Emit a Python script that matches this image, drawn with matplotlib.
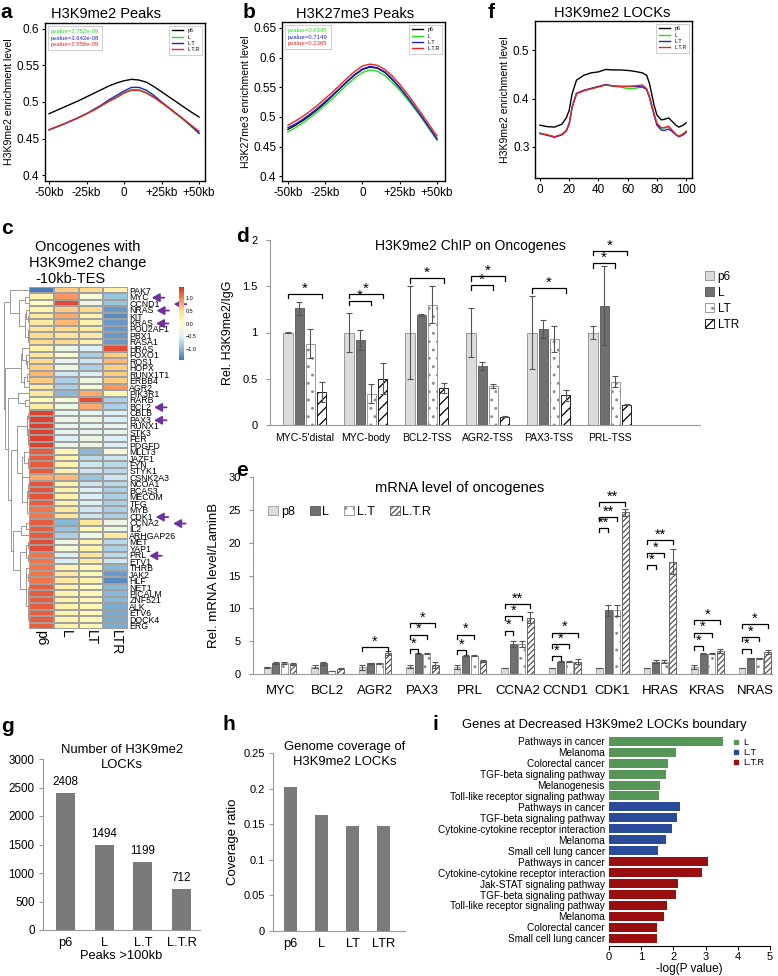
import numpy as np
import matplotlib
matplotlib.use("Agg")
import matplotlib.pyplot as plt
from matplotlib.lines import Line2D
from matplotlib.colors import LinearSegmentedColormap
from matplotlib.text import OffsetFrom

plt.rcParams['font.family'] = ['Liberation Sans', 'DejaVu Sans']
plt.rcParams['hatch.linewidth'] = 0.9

W, H = 778, 976

# ---------------- data ----------------
samples = ['p6', 'L', 'L.T', 'L.T.R']
line_colors = ['black', '#22dd22', '#2222cc', '#ee2222']

peak_kb = [-50, -45, -40, -35, -30, -25, -20, -15, -10, -5, 0, 5, 10, 15, 20, 25, 30, 35, 40, 45, 50]

# a: H3K9me2 peaks
a_p6 = [0.484, 0.4885, 0.493, 0.4975, 0.502, 0.507, 0.512, 0.517, 0.522, 0.526, 0.529,
        0.531, 0.530, 0.527, 0.521, 0.514, 0.507, 0.500, 0.493, 0.486, 0.4795]
a_L = [0.462, 0.466, 0.470, 0.4745, 0.479, 0.484, 0.489, 0.495, 0.501, 0.507, 0.513,
       0.517, 0.517, 0.513, 0.507, 0.499, 0.491, 0.483, 0.475, 0.466, 0.458]
a_LT = [0.462, 0.466, 0.470, 0.4745, 0.479, 0.484, 0.490, 0.496, 0.503, 0.509, 0.515,
        0.520, 0.520, 0.516, 0.509, 0.500, 0.492, 0.484, 0.476, 0.467, 0.457]
a_LTR = [0.462, 0.466, 0.470, 0.4745, 0.479, 0.484, 0.489, 0.495, 0.501, 0.506, 0.512,
         0.516, 0.516, 0.512, 0.506, 0.499, 0.492, 0.484, 0.476, 0.468, 0.460]
a_pvalues = ['pvalue=2.752e-09', 'pvalue=3.642e-08', 'pvalue=2.558e-09']

# b: H3K27me3 peaks
b_p6 = [0.479, 0.486, 0.494, 0.503, 0.513, 0.524, 0.536, 0.548, 0.560, 0.571, 0.580,
        0.584, 0.582, 0.575, 0.563, 0.549, 0.533, 0.516, 0.499, 0.481, 0.463]
b_L = [0.475, 0.482, 0.490, 0.499, 0.509, 0.520, 0.531, 0.543, 0.555, 0.566, 0.575,
       0.579, 0.577, 0.570, 0.558, 0.545, 0.530, 0.514, 0.497, 0.479, 0.461]
b_LT = [0.482, 0.488, 0.496, 0.505, 0.515, 0.526, 0.537, 0.549, 0.561, 0.572, 0.581,
        0.585, 0.583, 0.576, 0.564, 0.550, 0.534, 0.517, 0.499, 0.481, 0.462]
b_LTR = [0.486, 0.493, 0.501, 0.510, 0.520, 0.531, 0.542, 0.554, 0.566, 0.577, 0.586,
         0.589, 0.587, 0.580, 0.569, 0.555, 0.539, 0.522, 0.504, 0.486, 0.468]
b_pvalues = ['pvalue=0.6345', 'pvalue=0.7149', 'pvalue=0.2365']

# f: H3K9me2 LOCKs profile
lock_pos = [0, 5, 10, 15, 18, 20, 22, 25, 30, 35, 40, 45, 50, 55, 60, 65, 70, 73, 75,
            78, 80, 83, 85, 88, 90, 93, 95, 98, 100]
f_p6 = [0.345, 0.342, 0.341, 0.347, 0.360, 0.376, 0.410, 0.438, 0.448, 0.453, 0.455,
        0.460, 0.459, 0.459, 0.458, 0.456, 0.453, 0.448, 0.430, 0.387, 0.366, 0.356,
        0.357, 0.360, 0.354, 0.345, 0.341, 0.345, 0.350]
f_L = [0.329, 0.325, 0.321, 0.326, 0.334, 0.348, 0.382, 0.410, 0.416, 0.420, 0.424,
       0.428, 0.425, 0.424, 0.420, 0.421, 0.424, 0.419, 0.402, 0.368, 0.348, 0.339,
       0.339, 0.341, 0.335, 0.326, 0.322, 0.327, 0.333]
f_LT = [0.328, 0.324, 0.320, 0.325, 0.333, 0.347, 0.382, 0.411, 0.417, 0.421, 0.425,
        0.429, 0.426, 0.425, 0.425, 0.425, 0.424, 0.419, 0.401, 0.366, 0.345, 0.335,
        0.334, 0.337, 0.333, 0.325, 0.321, 0.325, 0.330]
f_LTR = [0.328, 0.325, 0.321, 0.326, 0.334, 0.349, 0.383, 0.410, 0.416, 0.420, 0.424,
         0.428, 0.426, 0.425, 0.425, 0.426, 0.428, 0.420, 0.403, 0.369, 0.349, 0.340,
         0.340, 0.343, 0.336, 0.326, 0.322, 0.327, 0.332]

# c: heatmap of oncogenes (row z-scores: p6, L, LT, LTR)
genes = ['PAK7', 'MYC', 'CCND1', 'NRAS', 'KIT', 'KRAS', 'POU2AF1', 'PBX1', 'RASA1', 'HRAS',
         'FOXO1', 'ROS1', 'HOPX', 'RUNX1T1', 'ERBB4', 'AGR2', 'PIK3R1', 'RARB', 'BCL2', 'CBLB',
         'PAX3', 'RUNX1', 'STK3', 'FER', 'PDGFD', 'MLLT3', 'JAZF1', 'FYN', 'STYK1', 'CSNK2A3',
         'NCOA1', 'BCAS3', 'MECOM', 'TFG', 'MYB', 'CDK1', 'CCNA2', 'IL2', 'ARHGAP26', 'MET',
         'YAP1', 'PRL', 'ETV1', 'THRB', 'JAK2', 'HLF', 'NET1', 'PICALM', 'ZNF521', 'ALK',
         'ETV6', 'DOCK4', 'ERG']
heat_cols = ['p6', 'L', 'LT', 'LTR']
heat_values = [
    [-1.4, 0.6, 0.5, 0.2], [0.2, 0.9, -0.2, -0.9], [0.0, 1.3, -0.3, -0.9],
    [0.2, 0.6, 0.5, -1.2], [0.3, 0.8, 0.2, -1.3], [0.3, 0.7, 0.2, -1.2],
    [0.4, 0.5, 0.3, -1.2], [0.5, 0.4, 0.3, -1.2], [0.5, 0.5, 0.2, -1.2],
    [0.2, -0.3, -0.5, 1.3], [0.4, -0.1, -0.8, 0.6], [0.5, -0.4, -0.6, 0.7],
    [0.6, -0.3, -0.8, 0.6], [0.7, -0.6, -0.5, 0.6], [0.6, -0.8, -0.3, 0.6],
    [0.3, -0.8, -0.2, 0.9], [0.3, -1.0, 0.8, 0.1], [0.1, -0.2, 1.3, -0.8],
    [0.3, -0.3, 0.8, -0.8], [1.35, -0.4, -0.4, -0.5], [1.35, -0.3, -0.3, -0.5],
    [1.35, -0.4, -0.4, -0.4], [1.35, -0.4, -0.4, -0.4], [1.35, -0.5, -0.3, -0.5],
    [1.35, -0.4, -0.3, -0.5], [1.2, 0.1, -1.0, -0.2], [1.2, 0.2, -0.7, -0.6],
    [1.2, 0.2, -0.6, -0.7], [1.2, 0.2, -0.6, -0.7], [0.8, 0.7, -0.9, -0.6],
    [1.25, 0.2, -0.6, -0.7], [1.25, 0.2, -0.5, -0.8], [1.25, 0.2, -0.5, -0.8],
    [1.2, 0.2, -0.5, -0.8], [1.1, 0.4, -0.6, -0.8], [1.1, 0.4, -0.6, -0.8],
    [1.2, -1.0, 0.4, -0.3], [1.2, -0.9, 0.1, -0.3], [1.2, -0.8, -0.3, 0.3],
    [1.3, -0.3, 0.2, -0.7], [1.3, -0.2, 0.2, -0.8], [1.1, -0.5, 0.4, -0.7],
    [1.1, -0.5, 0.3, -0.6], [1.1, 0.2, 0.1, -1.0], [1.1, 0.3, 0.1, -1.2],
    [1.1, 0.3, 0.2, -1.3], [1.2, 0.2, 0.0, -1.0], [1.2, 0.2, 0.1, -1.0],
    [1.2, 0.2, 0.1, -1.0], [1.2, 0.2, 0.1, -1.1], [1.2, 0.2, 0.1, -1.1],
    [1.2, 0.2, 0.1, -1.1], [1.2, 0.2, 0.1, -1.1],
]
heat_palette = ['#4575B4', '#91BFDB', '#E0F3F8', '#FFFFBF', '#FEE090', '#FC8D59', '#D73027']
marked_genes = ['MYC', 'CCND1', 'NRAS', 'KRAS', 'BCL2', 'PAX3', 'CDK1', 'CCNA2', 'PRL']
arrow_shift = [0, 1, 0, 0, 0, 0, 0, 1, 0]

# d: H3K9me2 ChIP on oncogenes
chip_sites = ["MYC-5'distal", 'MYC-body', 'BCL2-TSS', 'AGR2-TSS', 'PAX3-TSS', 'PRL-TSS']
chip_labels = ['p6', 'L', 'LT', 'LTR']
chip_p6 = [1.0, 1.0, 1.0, 1.0, 1.0, 1.0]
chip_L = [1.26, 0.92, 1.19, 0.64, 1.04, 1.29]
chip_LT = [0.88, 0.34, 1.30, 0.42, 0.93, 0.47]
chip_LTR = [0.36, 0.50, 0.40, 0.09, 0.32, 0.22]
chip_p6_err = [0.005, 0.21, 0.50, 0.27, 0.39, 0.07]
chip_L_err = [0.07, 0.11, 0.01, 0.04, 0.10, 0.43]
chip_LT_err = [0.16, 0.10, 0.20, 0.02, 0.14, 0.06]
chip_LTR_err = [0.11, 0.17, 0.05, 0.005, 0.06, 0.005]
# (site, compared bar, bracket height, mark)
chip_sig = [(0, 3, 1.42, '*'), (1, 2, 1.345, '*'), (1, 3, 1.42, '*'), (2, 3, 1.59, '*'),
            (3, 2, 1.51, '*'), (3, 3, 1.61, '*'), (4, 3, 1.48, '*'), (5, 2, 1.75, '*'),
            (5, 3, 1.885, '*')]

# e: mRNA level of oncogenes
mrna_genes = ['MYC', 'BCL2', 'AGR2', 'PAX3', 'PRL', 'CCNA2', 'CCND1', 'CDK1', 'HRAS', 'KRAS', 'NRAS']
mrna_labels = ['p8', 'L', 'L.T', 'L.T.R']
mrna_p8 = [1.0, 1.1, 1.0, 1.1, 1.0, 0.9, 0.9, 0.9, 0.9, 1.0, 0.9]
mrna_L = [1.7, 1.6, 1.6, 3.1, 2.8, 4.6, 1.9, 9.7, 1.9, 3.1, 2.4]
mrna_LT = [1.7, 0.45, 1.6, 3.1, 2.8, 4.6, 1.9, 9.7, 1.9, 3.1, 2.4]
mrna_LTR = [1.5, 0.8, 3.2, 1.4, 2.0, 8.6, 1.9, 24.6, 17.1, 3.5, 3.3]
mrna_p8_err = [0.05, 0.2, 0.4, 0.2, 0.3, 0.05, 0.05, 0.05, 0.05, 0.3, 0.05]
mrna_L_err = [0.2, 0.2, 0.1, 0.1, 0.1, 0.5, 0.1, 0.8, 0.3, 0.05, 0.1]
mrna_LT_err = [0.2, 0.05, 0.1, 0.1, 0.05, 0.5, 0.05, 0.8, 0.3, 0.05, 0.05]
mrna_LTR_err = [0.1, 0.1, 0.3, 0.5, 0.1, 0.9, 0.4, 0.5, 1.9, 0.3, 0.3]
mrna_sig = [(2, 3, 4.1, '*'),
            (3, 1, 3.8, '*'), (3, 2, 6.0, '*'), (3, 3, 7.8, '*'),
            (4, 1, 3.6, '*'), (4, 2, 6.0, '*'),
            (5, 1, 6.6, '*'), (5, 2, 8.8, '*'), (5, 3, 10.7, '**'),
            (6, 1, 2.7, '*'), (6, 2, 4.5, '*'), (6, 3, 6.3, '*'),
            (7, 1, 22.2, '**'), (7, 2, 23.9, '**'), (7, 3, 26.2, '**'),
            (8, 1, 16.6, '*'), (8, 2, 18.4, '*'), (8, 3, 20.4, '**'),
            (9, 1, 4.3, '*'), (9, 2, 6.3, '*'), (9, 3, 8.2, '*'),
            (10, 1, 3.8, '*'), (10, 2, 5.6, '*'), (10, 3, 7.6, '*')]

# g, h: LOCKs
lock_samples_g = ['p6', 'L', 'L.T', 'L.T.R']
lock_counts = [2408, 1494, 1199, 712]
lock_samples_h = ['p6', 'L', 'LT', 'LTR']
lock_coverage = [0.202, 0.163, 0.147, 0.148]

# i: KEGG enrichment
kegg_terms = ['Pathways in cancer', 'Melanoma', 'Colorectal cancer', 'TGF-beta signaling pathway',
              'Melanogenesis', 'Toll-like receptor signaling pathway',
              'Pathways in cancer', 'TGF-beta signaling pathway',
              'Cytokine-cytokine receptor interaction', 'Melanoma', 'Small cell lung cancer',
              'Pathways in cancer', 'Cytokine-cytokine receptor interaction',
              'Jak-STAT signaling pathway', 'TGF-beta signaling pathway',
              'Toll-like receptor signaling pathway', 'Melanoma', 'Colorectal cancer',
              'Small cell lung cancer']
kegg_logp = [3.55, 2.08, 1.82, 1.77, 1.58, 1.56,
             2.20, 2.12, 1.95, 1.76, 1.51,
             3.08, 2.88, 2.15, 2.08, 1.81, 1.72, 1.48, 1.48]
kegg_group = ['L'] * 6 + ['L.T'] * 5 + ['L.T.R'] * 8
kegg_colors = {'L': '#569656', 'L.T': '#2a4a9a', 'L.T.R': '#990f0f'}


# ---------------- helpers ----------------
def box(l, t, r, b):
    return [l / W, 1 - b / H, (r - l) / W, (b - t) / H]


def ftext(x, y, s, **kw):
    fig.text(x / W, 1 - y / H, s, **kw)


def profile(ax, x, series, pvalues=None):
    for vals, c in zip(series, line_colors):
        ax.plot(x, vals, color=c, lw=1.0)
    handles = [Line2D([], [], color=c, lw=1.0) for c in line_colors]
    leg = ax.legend(handles, samples, loc='upper right', fontsize=3.8, handlelength=2.2,
                    labelspacing=0.25, borderpad=0.5, fancybox=False, framealpha=1,
                    edgecolor='#bbbbbb')
    leg.get_frame().set_linewidth(0.5)
    if pvalues:
        ax.add_artist(leg)
        blank = [Line2D([], [], lw=0) for _ in pvalues]
        leg2 = ax.legend(blank, pvalues, loc='upper left', fontsize=4.3, handlelength=0,
                         handletextpad=0, labelspacing=0.25, borderpad=0.5, fancybox=False,
                         framealpha=1, edgecolor='#bbbbbb')
        leg2.get_frame().set_linewidth(0.5)
        for t, c in zip(leg2.get_texts(), line_colors[1:]):
            t.set_color(c)
    for s in ax.spines.values():
        s.set_linewidth(1.0)
    ax.tick_params(labelsize=8.5, length=2.5, width=0.8, pad=1.5)


def bracket(ax, x1, x2, y, mark, drop, size):
    ax.plot([x1, x1, x2, x2], [y - drop, y, y, y - drop], color='black', lw=0.9)
    ax.text((x1 + x2) / 2, y - drop * 0.4, mark, ha='center', va='bottom', fontsize=size)


def ordered_linkage(mat):
    # complete linkage, merging only neighbouring clusters so the row order is kept
    groups = [[i] for i in range(len(mat))]
    pos = [float(i) for i in range(len(mat))]
    hgt = [0.0] * len(mat)
    links = []
    while len(groups) > 1:
        dists = []
        for k in range(len(groups) - 1):
            a = mat[groups[k]]
            b = mat[groups[k + 1]]
            d = np.sqrt(((a[:, None, :] - b[None, :, :]) ** 2).sum(-1)).max()
            dists.append(d)
        k = int(np.argmin(dists))
        h = max(dists[k], hgt[k], hgt[k + 1])
        links.append((pos[k], hgt[k], pos[k + 1], hgt[k + 1], h))
        groups[k:k + 2] = [groups[k] + groups[k + 1]]
        pos[k:k + 2] = [(pos[k] + pos[k + 1]) / 2]
        hgt[k:k + 2] = [h]
    return links


fig = plt.figure(figsize=(W / 100, H / 100), dpi=100)

# ---------------- a ----------------
ax_a = fig.add_axes(box(45, 23, 205, 181))
profile(ax_a, peak_kb, [a_p6, a_L, a_LT, a_LTR], a_pvalues)
ax_a.set_xlim(-52.7, 54)
ax_a.set_ylim(0.392, 0.608)
ax_a.set_yticks([0.4, 0.45, 0.5, 0.55, 0.6])
ax_a.set_yticklabels(['0.4', '0.45', '0.5', '0.55', '0.6'])
ax_a.set_xticks([-50, -25, 0, 25, 50])
ax_a.set_xticklabels(['-50kb', '-25kb', '0', '+25kb', '+50kb'])
ax_a.set_ylabel('H3K9me2 enrichment level', fontsize=7.6, labelpad=2)
ftext(106, 14, 'H3K9me2 Peaks', fontsize=10.5, ha='center', va='center')
ftext(0, 12, 'a', fontsize=15, fontweight='bold', va='center')

# ---------------- b ----------------
ax_b = fig.add_axes(box(282, 22, 445, 181))
profile(ax_b, peak_kb, [b_p6, b_L, b_LT, b_LTR], b_pvalues)
ax_b.set_xlim(-54, 55.4)
ax_b.set_ylim(0.392, 0.660)
ax_b.set_yticks([0.4, 0.45, 0.5, 0.55, 0.6, 0.65])
ax_b.set_yticklabels(['0.4', '0.45', '0.5', '0.55', '0.6', '0.65'])
ax_b.set_xticks([-50, -25, 0, 25, 50])
ax_b.set_xticklabels(['-50kb', '-25kb', '0', '+25kb', '+50kb'])
ax_b.set_ylabel('H3K27me3 enrichment level', fontsize=7.6, labelpad=2)
ftext(355, 14, 'H3K27me3 Peaks', fontsize=10.5, ha='center', va='center')
ftext(243, 12, 'b', fontsize=15, fontweight='bold', va='center')

# ---------------- f ----------------
ax_f = fig.add_axes(box(535, 21, 692, 178))
profile(ax_f, lock_pos, [f_p6, f_L, f_LT, f_LTR])
ax_f.set_xlim(-3.4, 104)
ax_f.set_ylim(0.236, 0.560)
ax_f.set_yticks([0.3, 0.4, 0.5])
ax_f.set_yticklabels(['0.3', '0.4', '0.5'])
ax_f.set_xticks([0, 20, 40, 60, 80, 100])
ax_f.set_ylabel('H3K9me2 enrichment level', fontsize=7.6, labelpad=2)
ftext(612, 13, 'H3K9me2 LOCKs', fontsize=10.5, ha='center', va='center')
ftext(488, 12, 'f', fontsize=15, fontweight='bold', va='center')

# ---------------- c ----------------
heat = np.array(heat_values)
heat_cmap = LinearSegmentedColormap.from_list('pheat', heat_palette, N=100)
ax_c = fig.add_axes(box(29, 287, 128, 629))
mesh = ax_c.pcolormesh(heat, cmap=heat_cmap, vmin=-1.45, vmax=1.45,
                       edgecolors='#a0a0a0', linewidth=0.3)
ax_c.set_ylim(len(genes), 0)
ax_c.set_xlim(0, 4)
ax_c.set_yticks(np.arange(len(genes)) + 0.5)
ax_c.set_yticklabels(genes, fontsize=6.3)
ax_c.yaxis.tick_right()
ax_c.set_xticks(np.arange(4) + 0.5)
ax_c.set_xticklabels(heat_cols, rotation=270, fontsize=10)
ax_c.tick_params(length=0, pad=1)
for s in ax_c.spines.values():
    s.set_visible(False)
gene_ticklabels = ax_c.get_yticklabels()
for g, sh in zip(marked_genes, arrow_shift):
    lab = gene_ticklabels[genes.index(g)]
    anchor = OffsetFrom(lab, (1, 0.5), unit='points')
    ax_c.annotate('', xy=(2 + sh * 8, 0), xycoords=anchor,
                  xytext=(11 + sh * 8, 0), textcoords=anchor,
                  arrowprops=dict(arrowstyle='-|>,head_length=0.45,head_width=0.25',
                                  color='#7030a0', lw=1.3, shrinkA=0, shrinkB=0),
                  annotation_clip=False)

ax_dend = fig.add_axes(box(3, 287, 29, 629))
links = ordered_linkage(heat)
for ya, ha, yb, hb, h in links:
    ax_dend.plot([ha, h, h, hb], [ya + 0.5, ya + 0.5, yb + 0.5, yb + 0.5], color='#8a8a8a', lw=0.6)
ax_dend.set_ylim(len(genes), 0)
ax_dend.set_xlim(max(l[4] for l in links) * 1.02, 0)
ax_dend.axis('off')

cax = fig.add_axes(box(179, 287, 184, 360))
cb = fig.colorbar(mesh, cax=cax, ticks=[-1, -0.5, 0, 0.5, 1])
cb.ax.tick_params(labelsize=4, length=0, pad=1)
cb.outline.set_visible(False)

ftext(88, 247, 'Oncogenes with', fontsize=10.5, ha='center', va='center')
ftext(88, 263, 'H3K9me2 change', fontsize=10.5, ha='center', va='center')
ftext(70, 279, '-10kb-TES', fontsize=10.5, ha='center', va='center')
ftext(1, 228, 'c', fontsize=15, fontweight='bold', va='center')

# ---------------- d ----------------
ax_d = fig.add_axes(box(270, 240, 700, 425))
xd = np.arange(len(chip_sites))
off = [-0.275, -0.092, 0.092, 0.275]
bw = 0.15
d_vals = [chip_p6, chip_L, chip_LT, chip_LTR]
d_errs = [chip_p6_err, chip_L_err, chip_LT_err, chip_LTR_err]
d_style = [dict(color='#dcdcdc', edgecolor='#8c8c8c'),
           dict(color='#707070', edgecolor='#555555'),
           dict(color='white', edgecolor='#8c8c8c', hatch='..'),
           dict(color='white', edgecolor='black', hatch='///')]
for k in range(4):
    ax_d.bar(xd + off[k], d_vals[k], bw, yerr=d_errs[k], linewidth=0.6, label=chip_labels[k],
             error_kw=dict(ecolor='#555555', elinewidth=0.8, capsize=2.5, capthick=0.8),
             **d_style[k])
for site, j, h, m in chip_sig:
    bracket(ax_d, site + off[0], site + off[j], h, m, 0.05, 11)
ax_d.set_xlim(-0.57, 6.48)
ax_d.set_ylim(0, 2)
ax_d.set_yticks([0, 0.5, 1, 1.5, 2])
ax_d.set_yticklabels(['0', '0.5', '1', '1.5', '2'])
ax_d.set_xticks(xd)
ax_d.set_xticklabels(chip_sites, fontsize=7.5)
ax_d.tick_params(axis='x', length=0, pad=6)
ax_d.tick_params(axis='y', labelsize=8, length=3, color='#999999', pad=6)
for s in ['top', 'right']:
    ax_d.spines[s].set_visible(False)
for s in ['left', 'bottom']:
    ax_d.spines[s].set_color('#999999')
ax_d.legend(loc='upper left', bbox_to_anchor=(1.0, 0.86), fontsize=8.5, frameon=False,
            handlelength=0.8, handleheight=0.8, handletextpad=0.3, labelspacing=0.35,
            borderaxespad=0)
ax_d.set_ylabel('Rel. H3K9me2/IgG', fontsize=9, labelpad=6)
ftext(470, 246, 'H3K9me2 ChIP on Oncogenes', fontsize=10, ha='center', va='center')
ftext(236, 236, 'd', fontsize=15, fontweight='bold', va='center')

# ---------------- e ----------------
ax_e = fig.add_axes(box(253, 477, 772, 674))
xe = np.arange(len(mrna_genes))
off_e = [-0.273, -0.091, 0.091, 0.273]
bw_e = 0.145
e_vals = [mrna_p8, mrna_L, mrna_LT, mrna_LTR]
e_errs = [mrna_p8_err, mrna_L_err, mrna_LT_err, mrna_LTR_err]
e_style = [dict(color='#dcdcdc', edgecolor='#9a9a9a'),
           dict(color='#707070', edgecolor='#555555'),
           dict(color='white', edgecolor='#8c8c8c', hatch='..'),
           dict(color='white', edgecolor='#555555', hatch='//////')]
for k in range(4):
    ax_e.bar(xe + off_e[k], e_vals[k], bw_e, yerr=e_errs[k], linewidth=0.6, label=mrna_labels[k],
             error_kw=dict(ecolor='#555555', elinewidth=0.8, capsize=2.2, capthick=0.8),
             **e_style[k])
for gi, j, h, m in mrna_sig:
    bracket(ax_e, gi + off_e[0], gi + off_e[j], h, m, 0.6, 10.5)
ax_e.set_xlim(-0.57, 10.36)
ax_e.set_ylim(0, 30)
ax_e.set_yticks([0, 5, 10, 15, 20, 25, 30])
ax_e.set_xticks(xe)
ax_e.set_xticklabels(mrna_genes, fontsize=9.5)
ax_e.tick_params(axis='x', length=0, pad=8)
ax_e.tick_params(axis='y', labelsize=8, length=3, color='#999999', pad=6)
for s in ['top', 'right']:
    ax_e.spines[s].set_visible(False)
for s in ['left', 'bottom']:
    ax_e.spines[s].set_color('#999999')
ax_e.legend(loc='upper left', bbox_to_anchor=(0.02, 0.88), ncol=4, fontsize=9, frameon=False,
            handlelength=0.8, handleheight=0.8, handletextpad=0.2, columnspacing=1.2,
            borderaxespad=0)
ax_e.set_ylabel('Rel. mRNA level/LaminB', fontsize=9.5, labelpad=6)
ftext(460, 488, 'mRNA level of oncogenes', fontsize=10.5, ha='center', va='center')
ftext(236, 470, 'e', fontsize=15, fontweight='bold', va='center')

# ---------------- g ----------------
ax_g = fig.add_axes(box(43, 759, 200, 930))
xg = np.arange(len(lock_counts))
ax_g.bar(xg, lock_counts, 0.49, color='#7a7a7a')
for x, v in zip(xg, lock_counts):
    ax_g.text(x, v + 90, str(v), ha='center', va='bottom', fontsize=8.4)
ax_g.set_xlim(-0.58, 3.48)
ax_g.set_ylim(0, 3000)
ax_g.set_yticks(np.arange(0, 3001, 500))
ax_g.set_xticks(xg)
ax_g.set_xticklabels(lock_samples_g, fontsize=9.3)
ax_g.tick_params(axis='x', length=0, pad=5)
ax_g.tick_params(axis='y', labelsize=8.4, length=3, color='#999999', pad=3)
for s in ['top', 'right']:
    ax_g.spines[s].set_visible(False)
for s in ['left', 'bottom']:
    ax_g.spines[s].set_color('#999999')
ax_g.set_xlabel('Peaks >100kb', fontsize=9.3, labelpad=1)
ftext(122, 750, 'Number of H3K9me2', fontsize=9.4, ha='center', va='center')
ftext(122, 765, 'LOCKs', fontsize=9.4, ha='center', va='center')
ftext(1, 727, 'g', fontsize=15, fontweight='bold', va='center')

# ---------------- h ----------------
ax_h = fig.add_axes(box(273, 753, 405, 931))
xh = np.arange(len(lock_coverage))
ax_h.bar(xh, lock_coverage, 0.42, color='#7a7a7a')
ax_h.set_xlim(-0.56, 3.69)
ax_h.set_ylim(0, 0.25)
ax_h.set_yticks([0, 0.05, 0.1, 0.15, 0.2, 0.25])
ax_h.set_yticklabels(['0', '0.05', '0.1', '0.15', '0.2', '0.25'])
ax_h.set_xticks(xh)
ax_h.set_xticklabels(lock_samples_h, fontsize=9.3)
ax_h.tick_params(axis='x', length=0, pad=5)
ax_h.tick_params(axis='y', labelsize=8, length=3, color='#999999', pad=3)
for s in ['top', 'right']:
    ax_h.spines[s].set_visible(False)
for s in ['left', 'bottom']:
    ax_h.spines[s].set_color('#999999')
ax_h.set_ylabel('Coverage ratio', fontsize=9.5, labelpad=3)
ftext(345, 747, 'Genome coverage of', fontsize=9.4, ha='center', va='center')
ftext(345, 762, 'H3K9me2 LOCKs', fontsize=9.4, ha='center', va='center')
ftext(222, 725, 'h', fontsize=15, fontweight='bold', va='center')

# ---------------- i ----------------
ax_i = fig.add_axes(box(609, 733, 770, 946))
yi = np.arange(len(kegg_terms))
ax_i.barh(yi, kegg_logp, 0.82, color=[kegg_colors[g] for g in kegg_group])
ax_i.set_ylim(len(kegg_terms) - 0.3, -0.75)
ax_i.set_xlim(0, 5)
ax_i.set_xticks([0, 1, 2, 3, 4, 5])
ax_i.set_yticks(yi)
ax_i.set_yticklabels(kegg_terms, fontsize=7.2)
ax_i.tick_params(axis='y', length=0, pad=3)
ax_i.tick_params(axis='x', labelsize=8, length=3, pad=1)
for s in ['top', 'right', 'left']:
    ax_i.spines[s].set_visible(False)
ax_i.set_xlabel('-log(P value)', fontsize=8.5, labelpad=1)
leg_i = [Line2D([], [], ls='', marker='s', markersize=3.5, color=kegg_colors[k]) for k in kegg_colors]
ax_i.legend(leg_i, list(kegg_colors), loc='upper right', fontsize=6.5, frameon=False,
            handlelength=1, handletextpad=0.3, labelspacing=0.1, borderaxespad=0.2)
ftext(604, 725, 'Genes at Decreased H3K9me2 LOCKs boundary', fontsize=9.4, ha='center', va='center')
ftext(432, 724, 'i', fontsize=15, fontweight='bold', va='center')

fig.savefig('out.png', dpi=100)
